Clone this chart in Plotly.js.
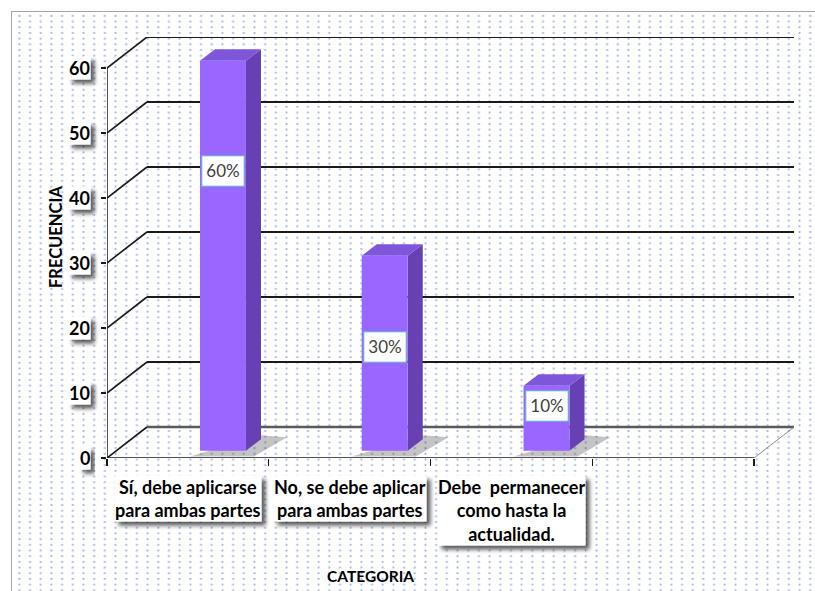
<!DOCTYPE html>
<html>
<head>
<meta charset="utf-8">
<script src="https://cdn.plot.ly/plotly-3.0.1.min.js"></script>
<style>
  html, body { margin: 0; padding: 0; background: #fff; }
  /* marco del gráfico con fondo punteado (estilo Excel) */
  #frame {
    position: absolute; left: 11px; top: 11px; width: 804px; height: 580px;
    border-left: 1px solid #a6a6a6; border-top: 1px solid #a6a6a6;
    background-image: radial-gradient(circle, rgba(120,150,215,0.95) 0, rgba(140,165,222,0.6) 0.8px, rgba(255,255,255,0) 1.5px);
    background-size: 10.7px 5.7px;
    background-position: 2px 1px;
  }
  #chart { position: absolute; left: 0; top: 0; width: 815px; height: 591px; }
</style>
</head>
<body>
<svg width="0" height="0" style="position:absolute">
  <defs>
    <filter id="xlShadow" x="-30%" y="-30%" width="170%" height="170%">
      <feGaussianBlur in="SourceAlpha" stdDeviation="2"/>
      <feOffset dx="3.5" dy="3.5" result="off"/>
      <feComponentTransfer><feFuncA type="linear" slope="0.65"/></feComponentTransfer>
      <feMerge><feMergeNode/><feMergeNode in="SourceGraphic"/></feMerge>
    </filter>
  </defs>
</svg>
<div id="frame"></div>
<div id="chart"></div>
<script>
/* ─── datos ─── */
const categorias = [
  'Sí, debe aplicarse<br>para ambas partes',
  'No, se debe aplicar<br>para ambas partes',
  'Debe\u00a0 permanecer<br>como hasta la<br>actualidad.'
];
const frecuencia = [60, 30, 10];
const porcentajes = ['60%', '30%', '10%'];
const yTicks = [0, 10, 20, 30, 40, 50, 60];
const yTickLabels = ['0', '10', '20', '30', '40', '50', '60'];

/* ─── geometría del efecto 3D (unidades de los ejes) ─── */
const N_SLOTS = 4;                 // Excel deja un hueco vacío al final
const DX = 0.247, DY = 4.77;       // desplazamiento de la pared del fondo
const BAR_OFF = 0.217, BAR_W = 0.284, BAR_BASE = 1.12;
const BAR_DX = 0.093, BAR_DY = 1.77;
const LABEL_Y = [44.2, 17.1, 8.0];

const FONT = 'Lato, "Open Sans", sans-serif';
const BLACK = '#1a1a1a';
const FRONT = '#9966ff', SIDE = '#6740b4', TOP = '#7d56da';

const xL = -0.5, xR = N_SLOTS - 0.5;
const yMax = yTicks[yTicks.length - 1];

const shapes = [];
const path = (d, fill, color, width) => ({
  type: 'path', xref: 'x', yref: 'y', path: d, layer: 'below',
  fillcolor: fill || 'rgba(0,0,0,0)', line: { color: color || 'rgba(0,0,0,0)', width: width || 0 }
});

// líneas de división (pared del fondo + diagonal al eje)
yTicks.forEach(v => {
  shapes.push(path(`M${xL},${v} L${xL + DX},${v + DY}`, null, BLACK, 1.6));
  shapes.push(path(`M${xL + DX},${v + DY} L${xR + DX},${v + DY}`, null, v === 0 ? '#5a5a5a' : BLACK, v === 0 ? 2.4 : 2));
});
// borde derecho del suelo
shapes.push(path(`M${xR},0 L${xR + DX},${DY}`, null, '#8c8c8c', 1));

// sombras y caras laterales/superiores de las barras
frecuencia.forEach((v, i) => {
  const xl = i + BAR_OFF - BAR_W / 2, xr = i + BAR_OFF + BAR_W / 2;
  const yb = BAR_BASE, yt = BAR_BASE + v;
  shapes.push(path(`M${xl - 0.06},${yb - 0.9} L${xr + 0.05},${yb - 0.9} L${xr + BAR_DX + 0.16},${yb + BAR_DY + 0.3} L${xr + BAR_DX},${yb + BAR_DY + 0.6} Z`,
    'rgba(60,60,60,0.3)'));
  shapes.push(path(`M${xr},${yb} L${xr + BAR_DX},${yb + BAR_DY} L${xr + BAR_DX},${yt + BAR_DY} L${xr},${yt} Z`, SIDE));
  shapes.push(path(`M${xl},${yt} L${xl + BAR_DX},${yt + BAR_DY} L${xr + BAR_DX},${yt + BAR_DY} L${xr},${yt} Z`, TOP));
});

// ejes frontales
shapes.push(path(`M${xL},0 L${xL},${yMax}`, null, BLACK, 1.5));
shapes.push(path(`M${xL},0 L${xR},0`, null, BLACK, 1.5));

const annotations = [];
const shadowed = [];   // índices de las cajas con sombra
const boxed = a => { shadowed.push(annotations.length); annotations.push(Object.assign({ bgcolor: '#ffffff' }, a)); };

yTicks.forEach((v, i) => boxed({
  xref: 'paper', x: 0, xanchor: 'right', xshift: -16, yref: 'y', y: v, yanchor: 'middle',
  text: yTickLabels[i], showarrow: false, borderpad: 0,
  font: { family: FONT, size: 18, color: '#000', weight: 'bold' }
}));

categorias.forEach((c, i) => boxed({
  xref: 'x', x: i, xanchor: 'center', yref: 'paper', y: 0, yanchor: 'top', yshift: -17,
  text: c, showarrow: false, align: 'center', borderpad: 0,
  font: { family: FONT, size: 18, color: '#000', weight: 'bold' }
}));

porcentajes.forEach((p, i) => annotations.push({
  xref: 'x', x: i + BAR_OFF, yref: 'y', y: LABEL_Y[i], text: p, showarrow: false,
  bgcolor: '#ffffff', bordercolor: '#6fa8dc', borderwidth: 1.3, borderpad: 4,
  font: { family: FONT, size: 17, color: '#404040' }
}));

annotations.push({
  xref: 'paper', x: 0, xshift: -63, yref: 'paper', y: 0.525, textangle: -90, showarrow: false,
  text: 'FRECUENCIA', font: { family: FONT, size: 16.5, color: '#000', weight: 'bold' }
});
annotations.push({
  xref: 'paper', x: 0.383, yref: 'paper', y: 0, yanchor: 'middle', yshift: -118, showarrow: false,
  text: 'CATEGORIA', font: { family: FONT, size: 15.5, color: '#000', weight: 'bold' }
});

const trace = {
  type: 'bar',
  x: frecuencia.map((_, i) => i + BAR_OFF),
  y: frecuencia,
  base: BAR_BASE,
  width: BAR_W,
  marker: { color: FRONT, line: { width: 0 } },
  hoverinfo: 'skip'
};

Plotly.newPlot('chart', [trace], {
  width: 815, height: 591,
  margin: { l: 107, r: 21, t: 37, b: 133 },
  paper_bgcolor: 'rgba(0,0,0,0)', plot_bgcolor: 'rgba(0,0,0,0)',
  showlegend: false,
  xaxis: {
    range: [xL, xR + DX], showgrid: false, zeroline: false, showline: false,
    tickmode: 'array', tickvals: Array.from({ length: N_SLOTS + 1 }, (_, k) => k - 0.5),
    ticks: 'outside', ticklen: 7, tickcolor: BLACK, tickwidth: 1.3, showticklabels: false
  },
  yaxis: {
    range: [0, yMax + DY], showgrid: false, zeroline: false, showline: false,
    tickmode: 'array', tickvals: yTicks,
    ticks: 'outside', ticklen: 5, tickcolor: BLACK, tickwidth: 1.3, showticklabels: false
  },
  shapes: shapes,
  annotations: annotations
}, { displayModeBar: false, staticPlot: true }).then(gd => {
  // sombra difusa de Excel bajo las cajas de las etiquetas
  const nodes = gd.querySelectorAll('.annotation');
  shadowed.forEach(k => {
    const bg = nodes[k] && nodes[k].querySelector('rect.bg');
    if (bg) bg.setAttribute('filter', 'url(#xlShadow)');
  });
});
</script>
</body>
</html>
